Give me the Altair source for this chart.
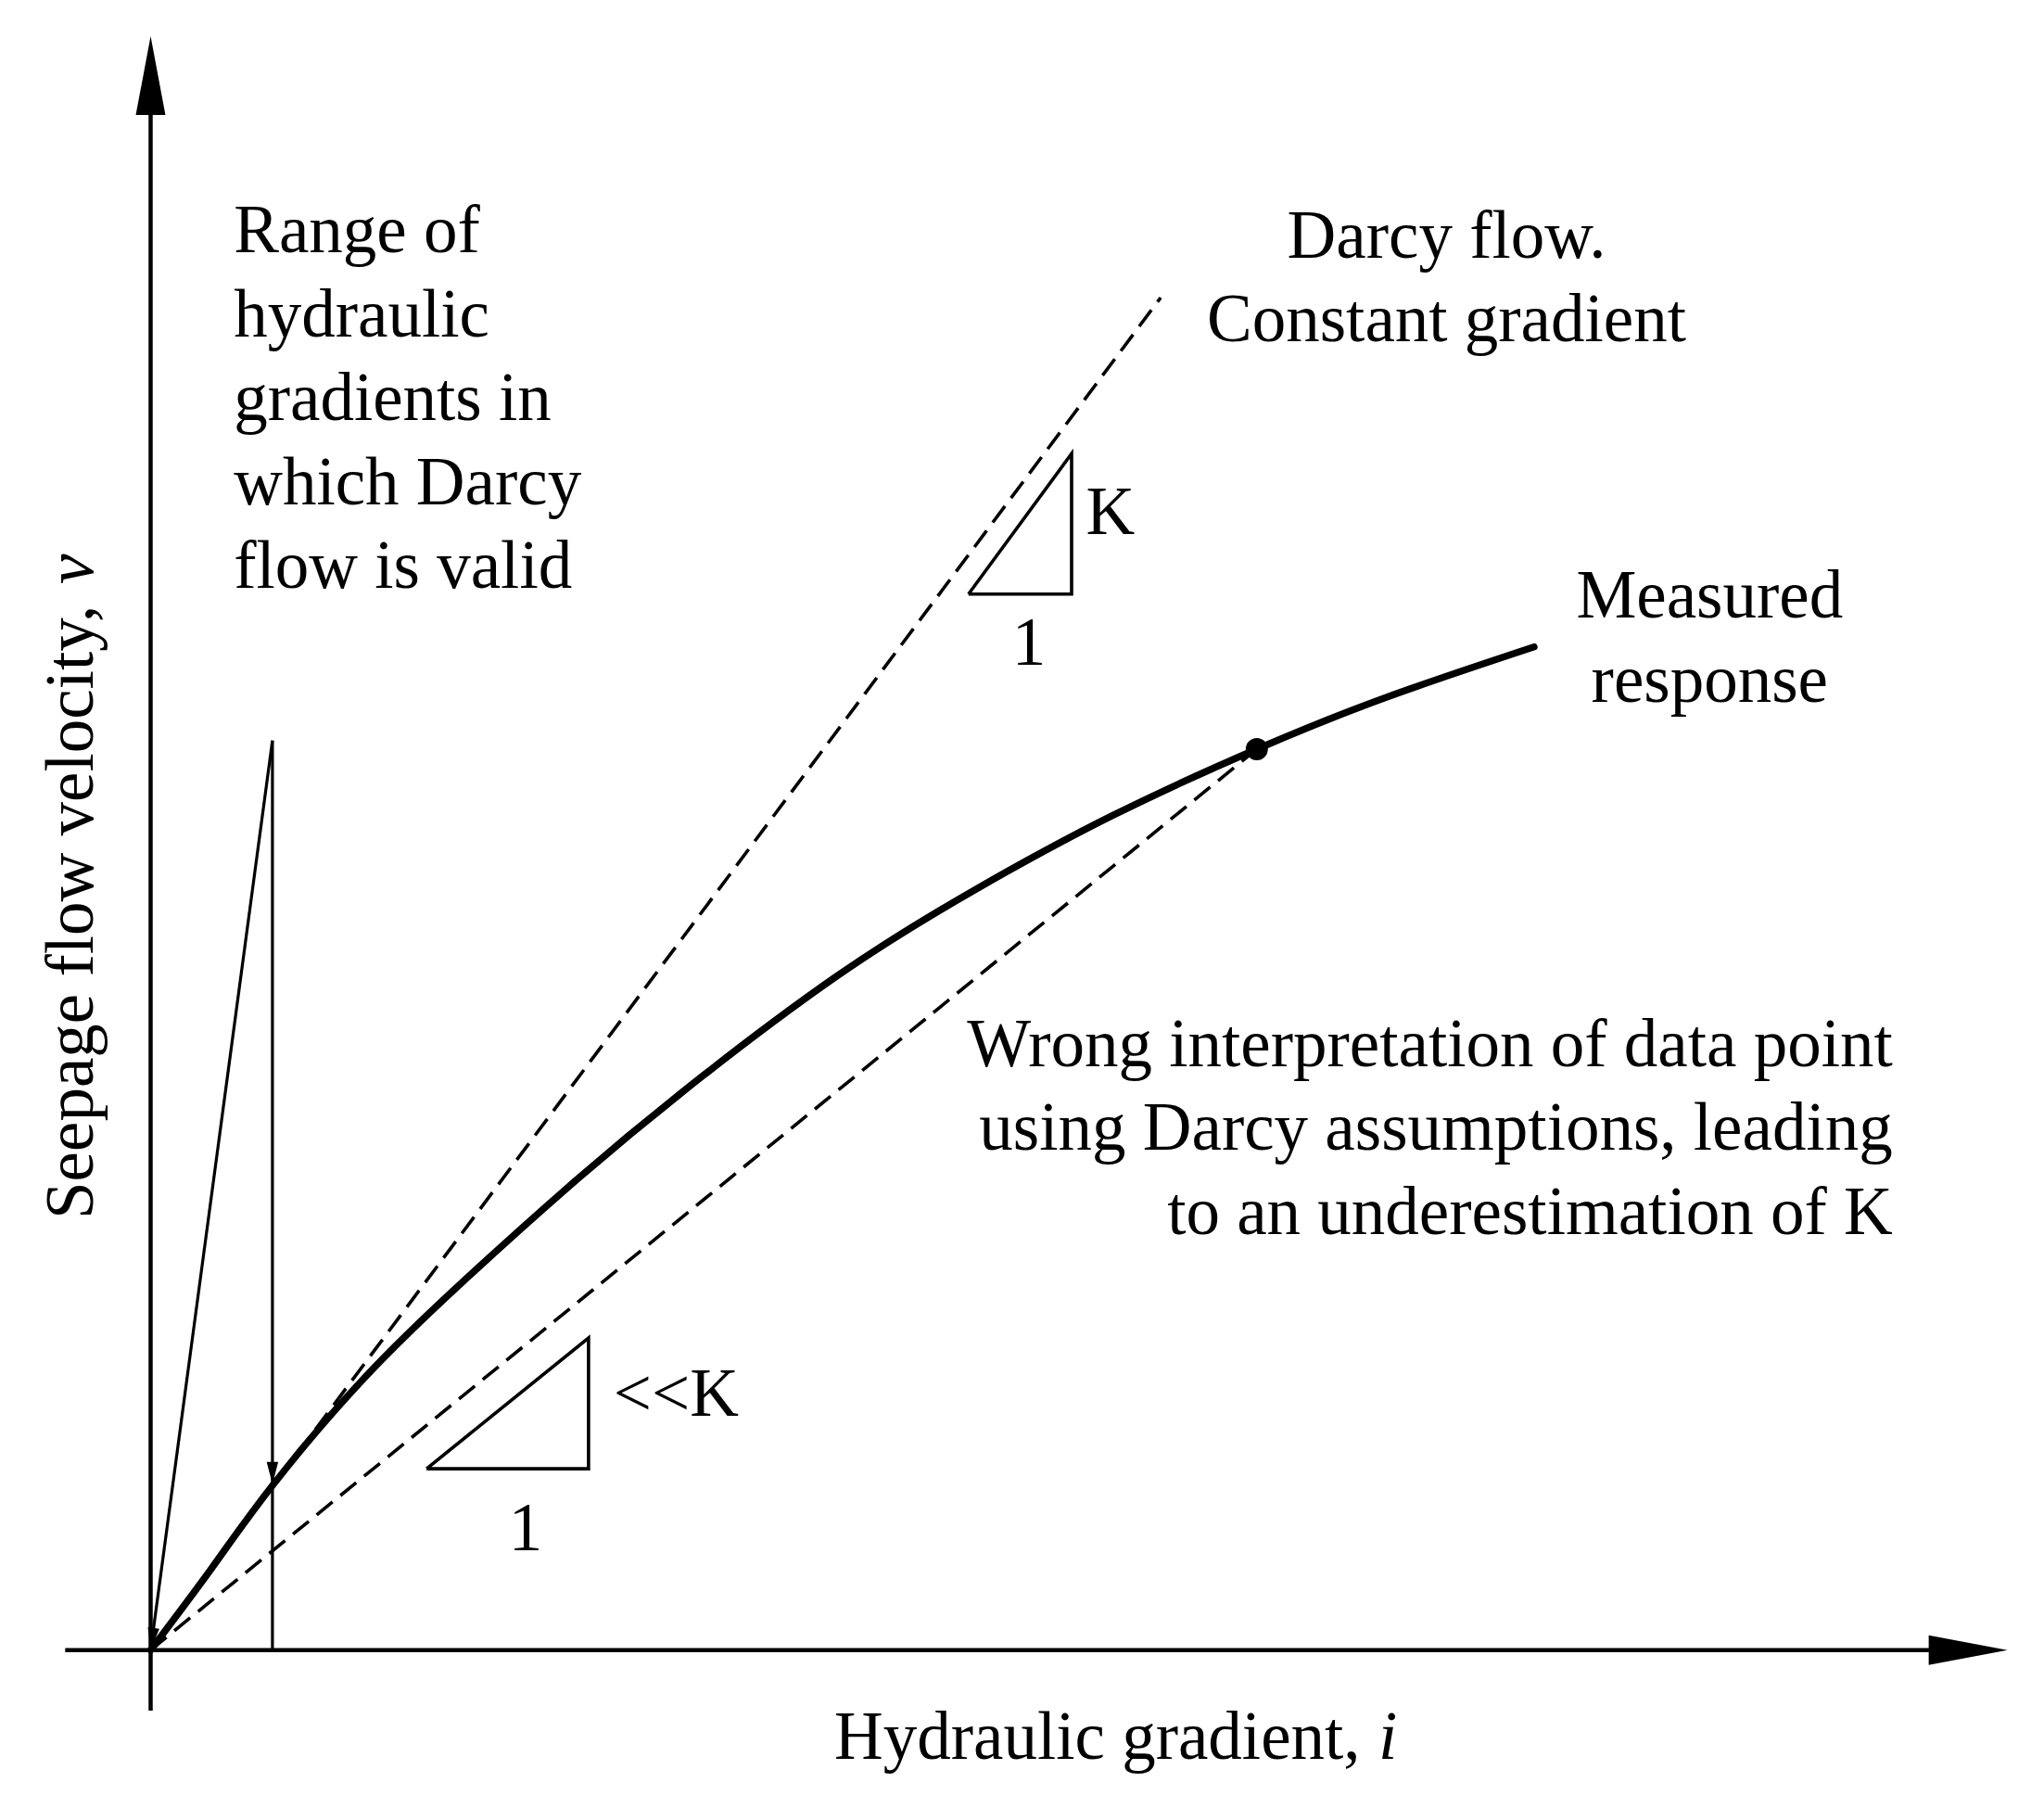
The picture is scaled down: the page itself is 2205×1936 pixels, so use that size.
import altair as alt
import pandas as pd
import numpy as np

# ---------------- data (arbitrary units) ----------------
# Measured response (thick curve)
curve_i = [0, 0.66, 1.31, 2.3, 3.375, 4.5, 5.725, 7.39, 8.875, 10.375, 11.933, 13.34, 14.924]
curve_v = [0, 0.885, 1.77, 2.93, 3.98, 4.99, 6.01, 7.26, 8.19, 9.0, 9.717, 10.28, 10.82]

# measured data point (black dot)
point_i = [11.933]
point_v = [9.717]

# Darcy line (constant gradient) end point, starts at origin
darcy_end_i = 10.896
darcy_end_v = 14.587

# range-of-validity arrows: top apex
range_top_i = 1.314
range_top_v = 9.81
range_tip_v = 1.79   # where the vertical arrow meets the curve

# slope triangles
tri_names = ["K", "K", "K", "K", "lowK", "lowK", "lowK", "lowK"]
tri_i = [8.823, 9.935, 9.935, 8.823, 2.977, 4.724, 4.724, 2.977]
tri_v = [11.389, 11.389, 12.904, 11.389, 1.956, 1.956, 3.367, 1.956]

# axis extents
axis_x_from, axis_x_to = -0.922, 20.031
axis_y_from, axis_y_to = -0.653, 17.407

# ---------------- layout ----------------
W, H = 2185, 1915
ORIGIN_X, ORIGIN_Y, PX = 154.5, 1771.7, 100.0
xs = alt.Scale(domain=[-ORIGIN_X / PX, (W - ORIGIN_X) / PX], nice=False, zero=False)
ys = alt.Scale(domain=[(ORIGIN_Y - H) / PX, ORIGIN_Y / PX], nice=False, zero=False)

FONT = "Liberation Serif"
FS = 73
LH = 90.5


def ex(f):
    return alt.X(f, type="quantitative", scale=xs, axis=None)


def ey(f):
    return alt.Y(f, type="quantitative", scale=ys, axis=None)


def seg_layer(df, **mk):
    return alt.Chart(df).mark_rule(color="black", **mk).encode(
        x=ex("x"), y=ey("y"), x2=alt.X2("x2"), y2=alt.Y2("y2"))


# axes
axes_df = pd.DataFrame({
    "x": [axis_x_from, 0.0], "y": [0.0, axis_y_from],
    "x2": [axis_x_to - 0.5, 0.0], "y2": [0.0, axis_y_to - 0.5]})
axes = seg_layer(axes_df, strokeWidth=4.5)

# thin range arrows
thin_df = pd.DataFrame({
    "x": [range_top_i, range_top_i], "y": [range_top_v, range_top_v],
    "x2": [range_top_i, 0.0], "y2": [0.0, 0.0]})
thin = seg_layer(thin_df, strokeWidth=3.2)

# dashed lines
dash_df = pd.DataFrame({
    "x": [0.0, 0.0], "y": [0.0, 0.0],
    "x2": [darcy_end_i, point_i[0]], "y2": [darcy_end_v, point_v[0]]})
dashed = seg_layer(dash_df, strokeWidth=3.6, strokeDash=[22, 11])

# triangles
tri_df = pd.DataFrame({"tri": tri_names, "x": tri_i, "y": tri_v,
                       "ord": list(range(len(tri_i)))})
triangles = alt.Chart(tri_df).mark_line(color="black", strokeWidth=3.6,
                                        strokeJoin="miter").encode(
    x=ex("x"), y=ey("y"), detail="tri:N", order="ord:Q")

# measured response curve
curve_df = pd.DataFrame({"x": curve_i, "y": curve_v, "ord": list(range(len(curve_i)))})
curve = alt.Chart(curve_df).mark_line(color="black", strokeWidth=7.5, strokeCap="round",
                                      interpolate="natural").encode(
    x=ex("x"), y=ey("y"), order="ord:Q")

# data point
pt_df = pd.DataFrame({"x": point_i, "y": point_v})
dot = alt.Chart(pt_df).mark_point(shape="circle", filled=True, size=573,
                                  color="black", opacity=1).encode(x=ex("x"), y=ey("y"))

# arrowheads
slant_angle = float(np.degrees(np.arctan2(range_top_i, range_top_v)))
heads_df = pd.DataFrame({
    "x": [0.0, axis_x_to, range_top_i, 0.0],
    "y": [axis_y_to, 0.0, range_tip_v, 0.0],
    "shape": ["M0,0L0.376,2L-0.376,2Z", "M0,0L-2,-0.376L-2,0.376Z",
              "M0,0L-0.52,-2L0.52,-2Z", "M0,0L-0.52,-2L0.52,-2Z"],
    "size": [7225, 7225, 576, 576],
    "angle": [0.0, 0.0, 0.0, slant_angle],
})
heads = alt.Chart(heads_df).mark_point(filled=True, color="black", opacity=1,
                                       strokeWidth=0).encode(
    x=ex("x"), y=ey("y"),
    shape=alt.Shape("shape:N", scale=None),
    size=alt.Size("size:Q", scale=None),
    angle=alt.Angle("angle:Q", scale=None))

# ---------------- texts ----------------
def text_layer(labels, xs_, ys_, align, angle=0, style="normal"):
    df = pd.DataFrame({"x": xs_, "y": ys_, "label": labels})
    mk = dict(align=align, baseline="alphabetic", font=FONT, fontSize=FS,
              lineBreak="\n", lineHeight=LH, color="black", fontStyle=style)
    if angle:
        mk["angle"] = angle
    return alt.Chart(df).mark_text(**mk).encode(x=ex("x"), y=ey("y"), text="label:N")


left_txt = text_layer(
    ["Range of\nhydraulic\ngradients in\nwhich Darcy\nflow is valid", "K", "<<K",
     "Hydraulic gradient,"],
    [0.897, 10.089, 4.993, 7.375],
    [15.077, 12.037, 2.527, -1.173], "left")
italic_i = text_layer(["i"], [13.245], [-1.173], "left", style="italic")

center_txt = text_layer(
    ["Darcy flow.\nConstant gradient", "Measured\nresponse", "1", "1"],
    [13.98, 16.818, 9.475, 4.045],
    [15.021, 11.134, 10.627, 1.074], "center")

right_txt = text_layer(
    ["Wrong interpretation of data point\nusing Darcy assumptions, leading\nto an underestimation of K"],
    [18.792], [6.302], "right")

ylab = text_layer(["Seepage flow velocity,"], [-0.625], [4.647], "left", angle=270)
ylab_v = text_layer(["v"], [-0.625], [11.497], "left", angle=270, style="italic")

chart = alt.layer(
    axes, thin, dashed, triangles, curve, dot, heads,
    left_txt, italic_i, center_txt, right_txt, ylab, ylab_v
).properties(
    width=W, height=H, padding=0,
    autosize=alt.AutoSizeParams(type="none"),
    background="white",
).configure_view(stroke=None)

chart.save("out.html", embed_options={"renderer": "svg", "actions": False})
